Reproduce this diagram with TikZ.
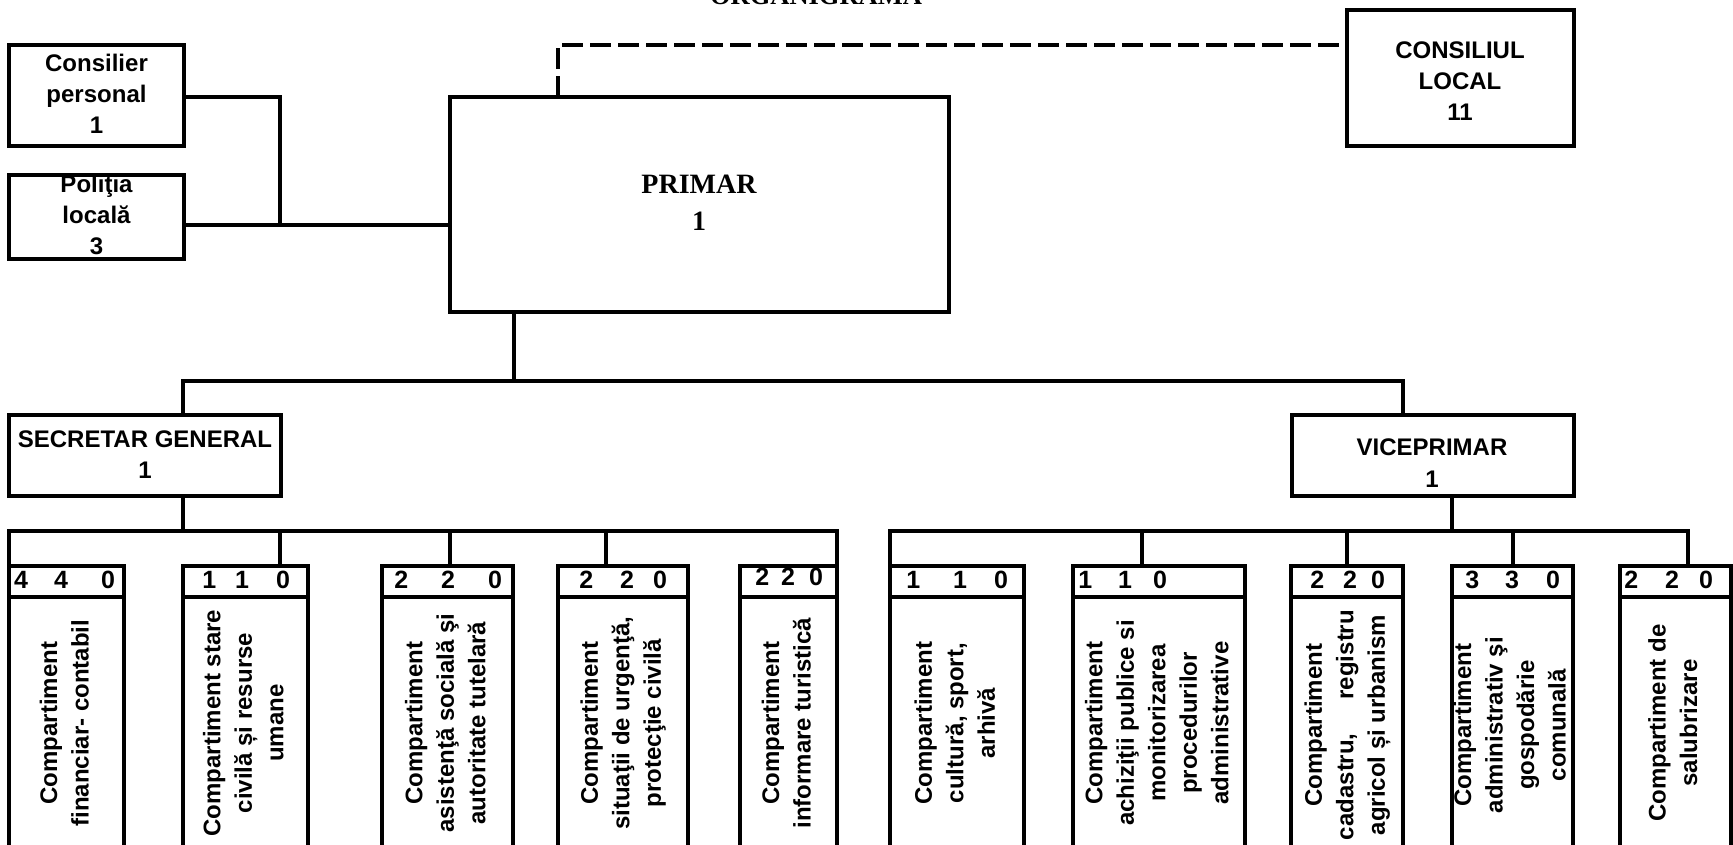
\documentclass[tikz,border=0pt]{standalone}
\usepackage{fontspec}
\setmainfont{Liberation Sans}
\newfontfamily\tms{Liberation Serif}
\newcommand\digs[5]{\makebox[0pt]{#1}\hspace{#4pt}\makebox[0pt]{#2}\hspace{#5pt}\makebox[0pt]{#3}}
\tikzset{
  box/.style={draw, line width=3.2pt, inner sep=0pt, outer sep=0pt, anchor=north west},
  thickbox/.style={box, line width=4.8pt},
  hdr/.style={box, line width=3.2pt, minimum height=31pt},
  body/.style={box, line width=4.6pt, minimum height=253pt},
  conn/.style={line width=3.3pt},
  dashconn/.style={line width=4.5pt, dash pattern=on 21pt off 7pt},
  txt/.style={inner sep=0pt, anchor=base, font=\bfseries\fontsize{24}{31}\selectfont},
  num/.style={inner sep=0pt, anchor=base west, font=\bfseries\fontsize{25}{31}\selectfont},
  rot/.style={inner sep=0pt, rotate=90, font=\bfseries\fontsize{24}{31.5}\selectfont},
}
\begin{document}
\begin{tikzpicture}[x=1pt,y=-1pt]
\useasboundingbox (0,0) rectangle (1733,845);

% title (cut at top)
\node[anchor=base, inner sep=0pt, font=\tms\bfseries\fontsize{26.5}{30}\selectfont] (title) at (816,4.5) {ORGANIGRAMA};

% top boxes
\node[box, minimum width=175pt, minimum height=101pt] (cons) at (9,45) {};
\node[txt] (cons-t) at (96.5,72) {\begin{tabular}[t]{@{}c@{}}Consilier\\personal\\1\end{tabular}};
\node[box, minimum width=175pt, minimum height=84pt] (pol) at (9,175) {};
\node[txt] (pol-t) at (96.5,193) {\begin{tabular}[t]{@{}c@{}}Poliţia\\locală\\3\end{tabular}};
\node[box, minimum width=499pt, minimum height=215pt] (prim) at (450,97) {};
\node[inner sep=0pt, anchor=base, font=\tms\bfseries\fontsize{28}{37}\selectfont] (prim-t) at (699,194) {\begin{tabular}[t]{@{}c@{}}PRIMAR\\1\end{tabular}};
\node[thickbox, minimum width=227pt, minimum height=136pt] (consl) at (1347,10) {};
\node[txt] (consl-t) at (1460,58.5) {\begin{tabular}[t]{@{}c@{}}CONSILIUL\\LOCAL\\11\end{tabular}};

% second level
\node[box, minimum width=272pt, minimum height=81pt] (sec) at (9,415) {};
\node[txt] (sec-t) at (145,447) {\begin{tabular}[t]{@{}c@{}}SECRETAR GENERAL\\1\end{tabular}};
\node[thickbox, minimum width=282pt, minimum height=81pt] (vice) at (1292,415) {};
\node[txt, font=\bfseries\fontsize{24}{32}\selectfont] (vice-t) at (1432,455) {\begin{tabular}[t]{@{}c@{}}VICEPRIMAR\\1\end{tabular}};

% compartment headers and bodies
\node[hdr, minimum width=115pt] (h1) at (9,566) {};
\node[body, minimum width=115pt] (b1) at (9,597) {};
\node[hdr, minimum width=125pt] (h2) at (183,566) {};
\node[body, minimum width=125pt] (b2) at (183,597) {};
\node[hdr, minimum width=131pt] (h3) at (382,566) {};
\node[body, minimum width=131pt] (b3) at (382,597) {};
\node[hdr, minimum width=130pt] (h4) at (558,566) {};
\node[body, minimum width=130pt] (b4) at (558,597) {};
\node[hdr, minimum width=97pt] (h5) at (740,566) {};
\node[body, minimum width=97pt] (b5) at (740,597) {};
\node[hdr, minimum width=134pt] (h6) at (890,566) {};
\node[body, minimum width=134pt] (b6) at (890,597) {};
\node[hdr, minimum width=172pt] (h7) at (1073,566) {};
\node[body, minimum width=172pt] (b7) at (1073,597) {};
\node[hdr, minimum width=112pt] (h8) at (1291,566) {};
\node[body, minimum width=112pt] (b8) at (1291,597) {};
\node[hdr, minimum width=121pt] (h9) at (1452,566) {};
\node[body, minimum width=121pt] (b9) at (1452,597) {};
\node[hdr, minimum width=111pt] (h10) at (1620,566) {};
\node[body, minimum width=111pt] (b10) at (1620,597) {};

% header numbers
\node[num] (n1) at (21,588) {\digs{4}{4}{0}{40}{47}};
\node[num] (n2) at (209,588) {\digs{1}{1}{0}{33}{41}};
\node[num] (n3) at (401,588) {\digs{2}{2}{0}{47}{47}};
\node[num] (n4) at (586,588) {\digs{2}{2}{0}{41}{33}};
\node[num] (n5) at (762,585) {\digs{2}{2}{0}{26}{28}};
\node[num] (n6) at (913,588) {\digs{1}{1}{0}{47}{41}};
\node[num] (n7) at (1085,588) {\digs{1}{1}{0}{40}{35}};
\node[num] (n8) at (1317,588) {\digs{2}{2}{0}{33}{28}};
\node[num] (n9) at (1472,588) {\digs{3}{3}{0}{40}{41}};
\node[num] (n10) at (1631,588) {\digs{2}{2}{0}{41}{34}};

% rotated texts
\node[rot] (t1) at (66.5,723) {\begin{tabular}{@{}c@{}}Compartiment\\financiar- contabil\end{tabular}};
\node[rot] (t2) at (245.5,723) {\begin{tabular}{@{}c@{}}Compartiment stare\\civilă și resurse\\umane\end{tabular}};
\node[rot] (t3) at (447.5,723) {\begin{tabular}{@{}c@{}}Compartiment\\asistenţă socială şi\\autoritate tutelară\end{tabular}};
\node[rot] (t4) at (623,723) {\begin{tabular}{@{}c@{}}Compartiment\\situaţii de urgenţă,\\protecţie civilă\end{tabular}};
\node[rot] (t5) at (788.5,723) {\begin{tabular}{@{}c@{}}Compartiment\\informare turistică\end{tabular}};
\node[rot] (t6) at (957,723) {\begin{tabular}{@{}c@{}}Compartiment\\cultură, sport,\\arhivă\end{tabular}};
\node[rot] (t7) at (1159,723) {\begin{tabular}{@{}c@{}}Compartiment\\achiziţii publice si\\monitorizarea\\procedurilor\\administrative\end{tabular}};
\node[rot] (t8) at (1347,725) {\begin{tabular}{@{}c@{}}Compartiment\\cadastru,\hspace{34pt}registru\\agricol și urbanism\end{tabular}};
\node[rot] (t9) at (1512,725) {\begin{tabular}{@{}c@{}}Compartiment\\administrativ şi\\gospodărie\\comunală\end{tabular}};
\node[rot] (t10) at (1675,723) {\begin{tabular}{@{}c@{}}Compartiment de\\salubrizare\end{tabular}};

% junction coordinates
\coordinate (jc) at (280,97);
\coordinate (jp) at (280,225);
\coordinate (dj) at (558,45);
\coordinate (pb) at (514,381);
\coordinate (sx) at (183,381);
\coordinate (vx) at (1403,381);
\coordinate (sb) at (183,531);
\coordinate (vb) at (1452,531);
\coordinate (t2j) at (280,531);
\coordinate (t3j) at (450,531);
\coordinate (t4j) at (606,531);
\coordinate (t7j) at (1142,531);
\coordinate (t8j) at (1347,531);
\coordinate (t9j) at (1513,531);
\coordinate (t10j) at (1688,531);

% connectors
\draw[conn] (cons.east |- jc) -- (jc) -- (jp);
\draw[conn] (pol.east |- jp) -- (prim.west |- jp);
\draw[dashconn] (prim.north -| dj) -- (dj) -- (consl.west |- dj);
\draw[conn] (prim.south -| pb) -- (pb);
\draw[conn, line join=miter] (sec.north -| sx) -- (sx) -- (vx) -- (vice.north -| vx);
\draw[conn] (sec.south -| sb) -- (sb);
\draw[conn, line join=miter] (h1.north west) -- (h1.north west |- sb) -- (h5.north east |- sb) -- (h5.north east);
\draw[conn] (t2j) -- (h2.north -| t2j);
\draw[conn] (t3j) -- (h3.north -| t3j);
\draw[conn] (t4j) -- (h4.north -| t4j);
\draw[conn] (vice.south -| vb) -- (vb);
\draw[conn, line join=miter] (h6.north west) -- (h6.north west |- sb) -- (t10j) -- (h10.north -| t10j);
\draw[conn] (t7j) -- (h7.north -| t7j);
\draw[conn] (t8j) -- (h8.north -| t8j);
\draw[conn] (t9j) -- (h9.north -| t9j);
\end{tikzpicture}
\end{document}
